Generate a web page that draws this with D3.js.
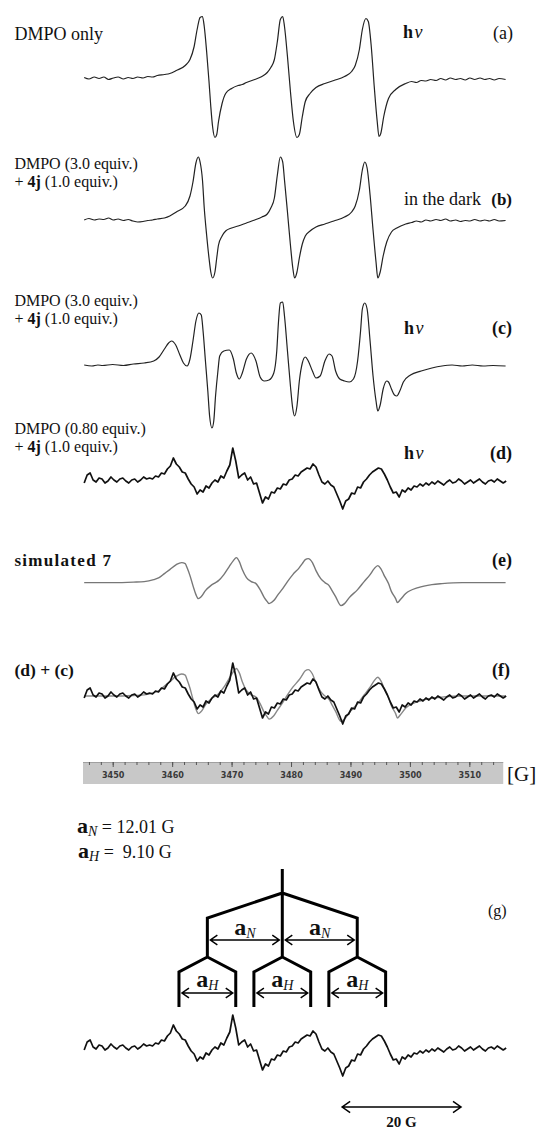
<!DOCTYPE html>
<html>
<head>
<meta charset="utf-8">
<script src="https://cdn.jsdelivr.net/npm/d3@7"></script>
<style>
  body { margin: 0; background: #fff; }
  svg { display: block; }
  text { font-family: "Liberation Serif", "Times New Roman", serif; fill: #111; }
</style>
</head>
<body>
<div id="chart"></div>
<script>
// field axis of the recorder bar [G]
const fieldDomain = [3445, 3516];
const barEnd = 3515.7;
const majorTicks = [3450, 3460, 3470, 3480, 3490, 3500, 3510];
const minorTicks = d3.range(3446, 3516, 2);

// (a) DMPO only, hv  -- [field G, intensity]
const specA = [[3445.2,1],[3446.0,-0.5],[3446.9,1.5],[3447.7,0],[3448.5,1.5],[3449.3,-1],[3450.1,0.5],[3450.9,1.5],[3451.8,-0.5],[3452.6,1],[3453.4,0],[3454.2,1.5],[3455.1,0.5],[3455.9,2],[3456.7,1.5],[3457.5,3],[3458.7,4],[3459.6,5],[3460.7,8],[3462.2,13],[3463.0,19],[3463.7,32],[3464.2,49],[3464.7,61],[3465.1,62],[3465.4,52],[3465.8,27],[3466.2,-3],[3466.5,-28],[3466.8,-48],[3467.2,-59],[3467.5,-56],[3467.8,-43],[3468.4,-25],[3469.0,-15],[3470.0,-10],[3471.1,-7],[3471.8,-6],[3472.5,-4],[3473.9,-1],[3475.1,2],[3476.0,6],[3476.6,11],[3477.2,19],[3477.7,37],[3478.2,59],[3478.6,62],[3478.9,52],[3479.4,22],[3479.9,-13],[3480.4,-43],[3481.0,-59],[3481.4,-56],[3481.9,-38],[3482.4,-23],[3483.2,-15],[3484.2,-9],[3485.7,-5],[3487.2,-2],[3489.0,2],[3490.2,7],[3490.8,13],[3491.5,29],[3492.0,49],[3492.6,60],[3493.0,57],[3493.5,32],[3494.0,-8],[3494.5,-43],[3494.8,-58],[3495.1,-55],[3495.6,-38],[3496.4,-20],[3497.6,-11],[3499.3,-5],[3500.3,-3],[3501.1,-4],[3501.9,-2],[3502.7,-2.5],[3503.5,-1],[3504.4,-2],[3505.2,0],[3506.0,-1.5],[3506.8,0.5],[3507.7,-1],[3508.5,0],[3509.3,-1.5],[3510.1,0.5],[3510.9,-1],[3511.8,0.5],[3512.6,-1],[3513.4,0],[3514.2,-1.5],[3515.0,0],[3516.1,-1]];

// (b) DMPO + 4j, in the dark
const specB = [[3445.2,0],[3446.0,1.5],[3446.9,0],[3447.7,1],[3448.5,0.5],[3449.3,2],[3450.1,0],[3450.9,1],[3451.8,-0.5],[3452.6,0.5],[3453.4,-1],[3454.2,-2],[3455.1,-1.5],[3455.9,-0.5],[3456.7,0],[3457.5,1],[3458.7,2],[3459.6,4],[3460.7,8],[3462.2,14],[3463.0,24],[3463.5,38],[3464.0,57],[3464.4,63],[3464.7,58],[3465.1,40],[3465.4,12],[3465.8,-15],[3466.2,-38],[3466.5,-52],[3466.8,-58],[3467.2,-52],[3467.5,-38],[3467.8,-25],[3468.4,-16],[3469.0,-11],[3470.0,-8],[3471.1,-6],[3472.5,-3],[3473.9,0],[3475.1,3],[3476.0,6],[3476.6,12],[3477.2,22],[3477.7,45],[3478.2,63],[3478.6,58],[3478.9,40],[3479.4,8],[3479.9,-25],[3480.3,-48],[3480.6,-58],[3481.0,-52],[3481.4,-38],[3481.9,-24],[3482.4,-16],[3483.2,-11],[3484.2,-7],[3485.7,-4],[3487.2,-1],[3489.0,3],[3490.2,8],[3490.8,14],[3491.5,30],[3492.0,50],[3492.4,58],[3492.8,52],[3493.3,25],[3493.8,-10],[3494.3,-42],[3494.6,-58],[3495.0,-52],[3495.5,-36],[3496.1,-22],[3496.9,-12],[3497.8,-8],[3499.3,-4],[3500.3,-2.5],[3501.1,-1],[3501.9,-2],[3502.7,0],[3503.5,-1],[3504.4,0.5],[3505.2,-0.5],[3506.0,1],[3506.8,-1],[3507.7,0],[3508.5,-1.5],[3509.3,-0.5],[3510.1,-1],[3510.9,0.5],[3511.8,-1],[3512.6,0],[3513.4,-1],[3514.2,0.5],[3515.0,-1],[3516.1,-0.5]];

// (c) DMPO (3.0) + 4j, hv
const specC = [[3445.2,1],[3446.5,0],[3447.5,1],[3448.3,0.5],[3450.0,1.5],[3451.8,0.5],[3453.5,2],[3455.3,3],[3456.9,5],[3457.8,9],[3458.7,17],[3459.4,23],[3459.9,25],[3460.6,21],[3461.3,11],[3461.9,3],[3462.5,0],[3463.0,7],[3463.5,25],[3464.0,45],[3464.5,53],[3464.9,51],[3465.2,35],[3465.6,5],[3466.0,-25],[3466.3,-50],[3466.7,-62],[3467.0,-55],[3467.3,-30],[3467.7,-5],[3468.0,10],[3468.7,15],[3469.6,16],[3470.3,7],[3470.8,-7],[3471.3,-13],[3471.8,-7],[3472.5,7],[3473.3,13],[3474.1,5],[3474.8,-11],[3475.5,-15],[3476.3,-14],[3477.1,-7],[3477.6,15],[3477.9,45],[3478.2,63],[3478.6,64],[3478.9,50],[3479.4,15],[3479.9,-20],[3480.3,-43],[3480.6,-50],[3481.0,-40],[3481.4,-15],[3481.9,3],[3482.4,9],[3482.9,5],[3483.6,-5],[3484.2,-12],[3484.9,-10],[3485.7,5],[3486.4,12],[3486.9,10],[3487.5,-5],[3488.2,-13],[3489.0,-15],[3489.8,-16],[3490.5,-13],[3491.2,5],[3491.7,35],[3492.0,57],[3492.4,63],[3492.8,57],[3493.3,25],[3493.8,-10],[3494.3,-35],[3494.6,-45],[3495.0,-39],[3495.5,-23],[3496.1,-15],[3496.4,-16],[3496.9,-23],[3497.4,-29],[3497.8,-30],[3498.3,-25],[3498.9,-16],[3500.1,-9],[3501.9,-5],[3503.7,-2],[3505.4,0],[3507.1,1],[3508.8,0],[3510.5,1],[3512.3,0],[3514.0,0.5],[3516.1,0]];

// (d) DMPO (0.80) + 4j, hv -- intensities every 0.5 G from 3445.2 G
const specDStart = 3445.2;
const specDStep = 0.5;
const specD = [-2,6,8,1,-1,3,2,-2,0,4,1,-1,2,3,0,-2,1,2,-1,1,4,2,3,
  2,5,4,8,7,12,15,
  23,17,14,
  9,8,2,-3,-6,-13,
  -9,
  -11,-5,-7,-2,1,-1,5,3,10,16,
  33,20,3,6,8,1,4,-3,-2,-12,-22,-16,
  -18,-11,-12,-7,-8,-3,-4,1,2,6,5,9,11,13,12,
  17,14,6,-1,
  -3,0,-4,-6,
  -13,-20,-28,-20,
  -18,-12,-13,-6,-7,-1,2,6,9,11,
  13,12,7,1,-6,-12,-11,-16,-9,-11,
  -7,-9,-5,-6,-3,-5,-2,-4,-1,-3,0,-2,-4,-1,1,-2,-1,2,0,-3,-1,1,-2,0,2,-1,-3,0,1,-1,2,0,-2,0];

// (e) simulated 7
const specE = [[3445.2,0],[3450.0,0],[3453.5,0.5],[3455.3,1],[3456.9,3],[3457.8,5],[3458.7,9],[3459.6,13],[3460.7,18],[3461.6,20],[3462.2,19],[3462.5,15],[3463.0,7],[3463.5,-3],[3464.0,-12],[3464.4,-16],[3464.9,-14],[3465.6,-8],[3466.5,-3],[3467.3,0],[3467.8,2],[3468.7,8],[3469.6,16],[3470.3,22],[3470.8,25],[3471.3,21],[3471.8,13],[3472.5,5],[3473.3,1],[3474.1,-1],[3474.8,-7],[3475.5,-15],[3476.0,-19],[3476.3,-21],[3477.1,-18],[3477.7,-13],[3478.6,-6],[3479.4,1],[3480.3,8],[3481.4,15],[3481.9,19],[3482.4,23],[3482.9,24],[3483.6,20],[3484.2,12],[3485.0,4],[3485.7,0],[3486.4,-3],[3486.9,-8],[3487.5,-14],[3488.4,-23],[3489.0,-21],[3489.8,-15],[3491.2,-7],[3492.3,1],[3493.3,8],[3494.0,14],[3494.6,17],[3495.1,14],[3495.6,8],[3496.4,-1],[3496.9,-9],[3497.6,-16],[3497.9,-20],[3498.4,-17],[3499.3,-11],[3501.4,-5],[3503.7,-2],[3505.4,-1],[3508.8,0],[3512.3,0],[3516.1,0]];

// hyperfine couplings of 7 [G]
const hfcCenter = 3478.5;
const hfcN = 12.01;
const hfcH = 9.10;
const scaleBarG = [3488.6, 3508.6];

const W = 537, H = 1129;
const svg = d3.select('#chart').append('svg')
  .attr('width', W)
  .attr('height', H);

const x = d3.scaleLinear().domain(fieldDomain).range([83, 505]);
// splitting diagram is drawn schematically, slightly wider than the field scale
const xTree = d3.scaleLinear().domain([hfcCenter - 20, hfcCenter + 20]).range([157.5, 407.1]);

const yAt = (base, k = 1) => d3.scaleLinear().domain([-1, 1]).range([base + k, base - k]);

function trace(data, xs, ys, color, width, curve) {
  svg.append('path')
    .datum(data)
    .attr('d', d3.line().x(d => xs(d[0])).y(d => ys(d[1])).curve(curve))
    .attr('fill', 'none')
    .attr('stroke', color)
    .attr('stroke-width', width)
    .attr('stroke-linejoin', 'round');
}

// parts: [text, 'b' | 'i' | '']
function label(px, py, parts, size, anchor, spacing) {
  const t = svg.append('text')
    .attr('x', px)
    .attr('y', py)
    .attr('font-size', size)
    .attr('text-anchor', anchor || 'start');
  if (spacing) t.attr('letter-spacing', spacing);
  parts.forEach(p => {
    const s = t.append('tspan').text(p[0]);
    if (p[1] === 'b') s.attr('font-weight', 'bold');
    if (p[1] === 'i') s.attr('font-style', 'italic');
  });
  return t;
}

const pointsD = specD.map((v, i) => [specDStart + i * specDStep, v]);

// spectra
trace(specA, x, yAt(78.5), '#222', 1.2, d3.curveMonotoneX);
trace(specB, x, yAt(220), '#222', 1.2, d3.curveMonotoneX);
trace(specC, x, yAt(366), '#222', 1.2, d3.curveMonotoneX);
trace(pointsD, x, yAt(481), '#111', 1.7, d3.curveLinear);
trace(specE, x, yAt(582.6), '#777', 1.4, d3.curveMonotoneX);
trace(specE, x, yAt(696, 1.1), '#888', 1.4, d3.curveMonotoneX);
trace(pointsD, x, yAt(696), '#111', 1.7, d3.curveLinear);
trace(pointsD, x, yAt(1048), '#111', 1.7, d3.curveLinear);

// labels
const hv = [['h', 'b'], ['\u03bd', 'i']];
const plus4j = [['+ '], ['4j', 'b'], [' (1.0 equiv.)']];
label(14.4, 40, [['DMPO only']], 18);
label(403, 38, hv, 18, 'start', 1.5);
label(513, 39, [['(a)']], 18, 'end');

label(14.4, 169, [['DMPO (3.0 equiv.)']], 16);
label(14.4, 187, plus4j, 16);
label(404, 204.5, [['in the dark']], 18);
label(512, 204.5, [['(b)', 'b']], 17, 'end');

label(14.4, 305.5, [['DMPO (3.0 equiv.)']], 16);
label(14.4, 324, plus4j, 16);
label(404, 334, hv, 18, 'start', 1.5);
label(512, 333.5, [['(c)', 'b']], 18, 'end');

label(14.4, 433.5, [['DMPO (0.80 equiv.)']], 16);
label(14.4, 452, plus4j, 16);
label(404, 459, hv, 18, 'start', 1.5);
label(512, 459, [['(d)', 'b']], 18, 'end');

label(14.4, 565.5, [['simulated '], ['7', 'b']], 17, 'start', 1.3).attr('font-weight', 600);
label(512, 565.5, [['(e)', 'b']], 18, 'end');

label(14.4, 676, [['(d) + (c)', 'b']], 17.5);
label(510, 676, [['(f)', 'b']], 18, 'end');

// recorder field bar
const barTop = 762, barH = 22;
svg.append('rect')
  .attr('x', x(fieldDomain[0]))
  .attr('y', barTop)
  .attr('width', x(barEnd) - x(fieldDomain[0]))
  .attr('height', barH)
  .attr('fill', '#c8c8c8');
svg.append('line')
  .attr('x1', x(fieldDomain[0])).attr('x2', x(barEnd))
  .attr('y1', barTop + 0.5).attr('y2', barTop + 0.5)
  .attr('stroke', '#a0a0a0');

const minorAxis = svg.append('g')
  .attr('transform', `translate(0,${barTop})`)
  .call(d3.axisBottom(x).tickValues(minorTicks).tickSize(3).tickFormat(''));
const majorAxis = svg.append('g')
  .attr('transform', `translate(0,${barTop})`)
  .call(d3.axisBottom(x).tickValues(majorTicks).tickSize(5).tickPadding(5).tickFormat(d3.format('d')));
[minorAxis, majorAxis].forEach(g => {
  g.select('.domain').remove();
  g.selectAll('line').attr('stroke', '#555');
});
majorAxis.selectAll('text')
  .style('font-family', '"Liberation Sans Narrow", "DejaVu Sans Condensed", sans-serif')
  .style('font-weight', 'bold')
  .style('font-size', '9px')
  .style('fill', '#3a3a3a');

label(507, 781, [['[G]']], 21);

// coupling constants
function hfcText(px, py, sub, rest, anchor, aSize) {
  const t = svg.append('text')
    .attr('x', px).attr('y', py)
    .attr('text-anchor', anchor || 'start');
  t.append('tspan').text('a').attr('font-weight', 'bold').attr('font-size', aSize);
  t.append('tspan').text(sub).attr('font-style', 'italic').attr('font-size', 14).attr('dy', 3);
  if (rest) t.append('tspan').text(rest).attr('font-size', 18).attr('dy', -3);
  return t;
}
hfcText(77, 833, 'N', ' = 12.01 G', 'start', 22);
hfcText(78, 858, 'H', ' =\u00a0 9.10 G', 'start', 22);

label(488, 916, [['(g)']], 16);

// splitting tree
const nLines = [hfcCenter - hfcN, hfcCenter, hfcCenter + hfcN];
const lv = { top: 869, split: 893, n: 918, nEnd: 957, h: 972, hEnd: 1007 };

const tree = d3.path();
tree.moveTo(xTree(hfcCenter), lv.top);
tree.lineTo(xTree(hfcCenter), lv.nEnd);
[nLines[0], nLines[2]].forEach(n => {
  tree.moveTo(xTree(hfcCenter), lv.split);
  tree.lineTo(xTree(n), lv.n);
  tree.lineTo(xTree(n), lv.nEnd);
});
nLines.forEach(n => {
  [n - hfcH / 2, n + hfcH / 2].forEach(h => {
    tree.moveTo(xTree(n), lv.nEnd);
    tree.lineTo(xTree(h), lv.h);
    tree.lineTo(xTree(h), lv.hEnd);
  });
});
svg.append('path')
  .attr('d', tree.toString())
  .attr('fill', 'none')
  .attr('stroke', '#000')
  .attr('stroke-width', 3)
  .attr('stroke-linejoin', 'miter');

function dimArrow(x1, x2, yy, head) {
  const p = d3.path();
  p.moveTo(x1, yy); p.lineTo(x2, yy);
  p.moveTo(x1 + head, yy - head * 0.7); p.lineTo(x1, yy); p.lineTo(x1 + head, yy + head * 0.7);
  p.moveTo(x2 - head, yy - head * 0.7); p.lineTo(x2, yy); p.lineTo(x2 - head, yy + head * 0.7);
  svg.append('path')
    .attr('d', p.toString())
    .attr('fill', 'none')
    .attr('stroke', '#000')
    .attr('stroke-width', 1.5);
}

// a_N arrows
[[nLines[0], nLines[1]], [nLines[1], nLines[2]]].forEach(([a, b]) => {
  dimArrow(xTree(a) + 3, xTree(b) - 3, 940, 7);
  hfcText((xTree(a) + xTree(b)) / 2, 935, 'N', null, 'middle', 24);
});
// a_H arrows
nLines.forEach(n => {
  const a = n - hfcH / 2, b = n + hfcH / 2;
  dimArrow(xTree(a) + 3, xTree(b) - 3, 993, 7);
  hfcText((xTree(a) + xTree(b)) / 2, 987, 'H', null, 'middle', 24);
});

// 20 G scale bar
dimArrow(x(scaleBarG[0]), x(scaleBarG[1]), 1107, 8);
label((x(scaleBarG[0]) + x(scaleBarG[1])) / 2, 1127, [['20 G', 'b']], 15, 'middle');
</script>
</body>
</html>
